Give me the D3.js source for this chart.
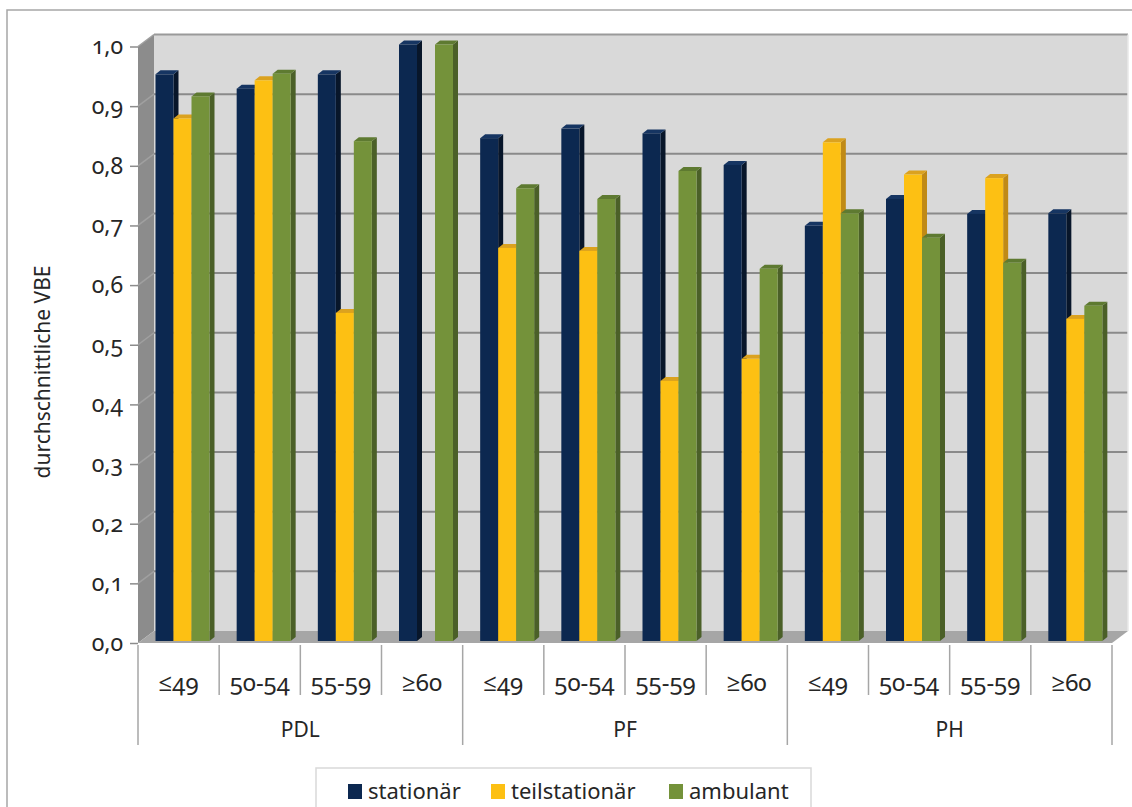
<!DOCTYPE html>
<html>
<head>
<meta charset="utf-8">
<script src="https://cdn.jsdelivr.net/npm/d3@7"></script>
<style>
  body { margin: 0; background: #fff; }
  text { font-family: "Noto Sans", "Open Sans", sans-serif; fill: #262626; font-variant-numeric: oldstyle-nums; }
</style>
</head>
<body>
<div id="chart"></div>
<script>
// categories
var groups = ['PDL', 'PF', 'PH'];
var ages = ['≤49', '50-54', '55-59', '≥60'];
var seriesNames = ['stationär', 'teilstationär', 'ambulant'];

// values per category (PDL ≤49 ... PH ≥60)
var stationaer     = [0.95, 0.926, 0.95, 1.0,   0.843, 0.859, 0.851, 0.798,   0.696, 0.741, 0.716, 0.717];
var teilstationaer = [0.876, 0.94, 0.55, null,  0.659, 0.654, 0.436, 0.473,   0.836, 0.782, 0.776, 0.540];
var ambulant       = [0.913, 0.951, 0.838, 1.0, 0.759, 0.741, 0.788, 0.624,   0.717, 0.676, 0.634, 0.562];

var yTicks = [0, 0.1, 0.2, 0.3, 0.4, 0.5, 0.6, 0.7, 0.8, 0.9, 1.0];

var colors = {
  front: ['#0c2850', '#fdc013', '#74923a'],
  side:  ['#08162a', '#c08a16', '#4b6028'],
  top:   ['#163562', '#dba21f', '#5e7a31']
};

var cats = [];
groups.forEach(g => ages.forEach(a => cats.push(g + '|' + a)));
var allSeries = [stationaer, teilstationaer, ambulant];

var svgWidth = 1132, svgHeight = 807;
var svg = d3.select('#chart').append('svg')
  .attr('width', svgWidth)
  .attr('height', svgHeight);

// outer chart border
svg.append('path')
  .attr('d', 'M7,830 L7,10 L1140,10')
  .attr('fill', 'none')
  .attr('stroke', '#a6a6a6')
  .attr('stroke-width', 1.5);

var x0 = 138, x1 = 1112;
var depth = {dx: 16, dy: -12};

var x = d3.scaleBand().domain(cats).range([x0, x1]).paddingInner(0).paddingOuter(0);
var y = d3.scaleLinear().domain([0, 1]).range([643, 46.5]);

var xs = d3.scaleBand().domain(seriesNames).range([13.5, 67.5]).padding(0);

// walls
var yTop = y(1), yBot = y(0);
svg.append('polygon')
  .attr('points', [[x0 + depth.dx, yTop + depth.dy], [x1 + depth.dx, yTop + depth.dy],
                   [x1 + depth.dx, yBot + depth.dy], [x0 + depth.dx, yBot + depth.dy]].join(' '))
  .attr('fill', '#d9d9d9');
svg.append('polygon')
  .attr('points', [[x0, yTop], [x0 + depth.dx, yTop + depth.dy],
                   [x0 + depth.dx, yBot + depth.dy], [x0, yBot]].join(' '))
  .attr('fill', '#8c8c8c');
svg.append('polygon')
  .attr('points', [[x0, yBot], [x1, yBot], [x1 + depth.dx, yBot + depth.dy], [x0 + depth.dx, yBot + depth.dy]].join(' '))
  .attr('fill', '#a6a6a6');

// gridlines on back wall and side wall
yTicks.forEach(t => {
  if (t === 0) return;
  svg.append('line')
    .attr('x1', x0 + depth.dx).attr('x2', x1 + depth.dx)
    .attr('y1', y(t) + depth.dy).attr('y2', y(t) + depth.dy)
    .attr('stroke', t === 1 ? '#9a9a9a' : '#8a8a8a')
    .attr('stroke-width', 2);
  svg.append('line')
    .attr('x1', x0).attr('x2', x0 + depth.dx)
    .attr('y1', y(t)).attr('y2', y(t) + depth.dy)
    .attr('stroke', '#a0a0a0')
    .attr('stroke-width', 1.5);
});
svg.append('line')
  .attr('x1', x1 + depth.dx).attr('x2', x1 + depth.dx)
  .attr('y1', yTop + depth.dy).attr('y2', yBot + depth.dy)
  .attr('stroke', '#e8e8e8').attr('stroke-width', 1.5);

// y axis
var leftAxis = d3.axisLeft(y).tickValues(yTicks).tickSize(8)
  .tickFormat(d => d3.format('.1f')(d).replace('.', ','));
var yAxisG = svg.append('g')
  .attr('transform', `translate(${x0},0)`)
  .call(leftAxis);
yAxisG.select('.domain').remove();
yAxisG.selectAll('line').attr('stroke', '#8c8c8c').attr('stroke-width', 1.5);
yAxisG.selectAll('text')
  .attr('x', -15)
  .style('font-size', '23px')
  .style('font-family', '"Noto Sans", sans-serif')
  .attr('fill', '#262626');

// bars
var bdx = 5, bdy = -4;   // bar side depth
var shiftX = 4, shiftY = -2;
var barG = svg.append('g');
cats.forEach((c, i) => {
  allSeries.forEach((vals, s) => {
    var v = vals[i];
    if (v == null) return;
    var bx = x(c) + xs(seriesNames[s]) + shiftX;
    var bw = xs.bandwidth();
    var yt = y(v) + shiftY;
    var yb = y(0) + shiftY;
    var g = barG.append('g');
    g.append('polygon')
      .attr('points', [[bx + bw, yt], [bx + bw + bdx, yt + bdy], [bx + bw + bdx, yb + bdy], [bx + bw, yb]].join(' '))
      .attr('fill', colors.side[s]);
    g.append('polygon')
      .attr('points', [[bx, yt], [bx + bdx, yt + bdy], [bx + bw + bdx, yt + bdy], [bx + bw, yt]].join(' '))
      .attr('fill', colors.top[s]);
    g.append('rect')
      .attr('x', bx).attr('y', yt)
      .attr('width', bw).attr('height', yb - yt)
      .attr('fill', colors.front[s]);
  });
});

// category axis: dividers and labels
var axisG = svg.append('g');
cats.forEach((c, i) => {
  var isGroupEdge = i % ages.length === 0;
  axisG.append('line')
    .attr('x1', x(c)).attr('x2', x(c))
    .attr('y1', 645).attr('y2', isGroupEdge ? 745 : 695)
    .attr('stroke', '#a6a6a6').attr('stroke-width', 1.5);
  axisG.append('text')
    .attr('x', x(c) + x.bandwidth() / 2)
    .attr('y', 691)
    .attr('text-anchor', 'middle')
    .style('font-size', '24px')
    .text(c.split('|')[1]);
});
axisG.append('line')
  .attr('x1', x1).attr('x2', x1)
  .attr('y1', 645).attr('y2', 745)
  .attr('stroke', '#a6a6a6').attr('stroke-width', 1.5);

groups.forEach((g, gi) => {
  var first = x(g + '|' + ages[0]);
  var last = x(g + '|' + ages[ages.length - 1]) + x.bandwidth();
  axisG.append('text')
    .attr('x', (first + last) / 2)
    .attr('y', 737)
    .attr('text-anchor', 'middle')
    .style('font-size', '21px')
    .text(g);
});

// y axis title
svg.append('text')
  .attr('transform', 'translate(50,372) rotate(-90)')
  .attr('text-anchor', 'middle')
  .style('font-size', '21px')
  .text('durchschnittliche VBE');

// legend
var legend = svg.append('g');
legend.append('rect')
  .attr('x', 316).attr('y', 768)
  .attr('width', 495).attr('height', 60)
  .attr('fill', '#fff')
  .attr('stroke', '#d9d9d9').attr('stroke-width', 1.5);
var legendX = [348, 491, 669];
seriesNames.forEach((n, s) => {
  legend.append('rect')
    .attr('x', legendX[s]).attr('y', 784)
    .attr('width', 14).attr('height', 15)
    .attr('fill', colors.front[s]);
  legend.append('text')
    .attr('x', legendX[s] + 20).attr('y', 799)
    .style('font-size', '22px')
    .text(n);
});
</script>
</body>
</html>
